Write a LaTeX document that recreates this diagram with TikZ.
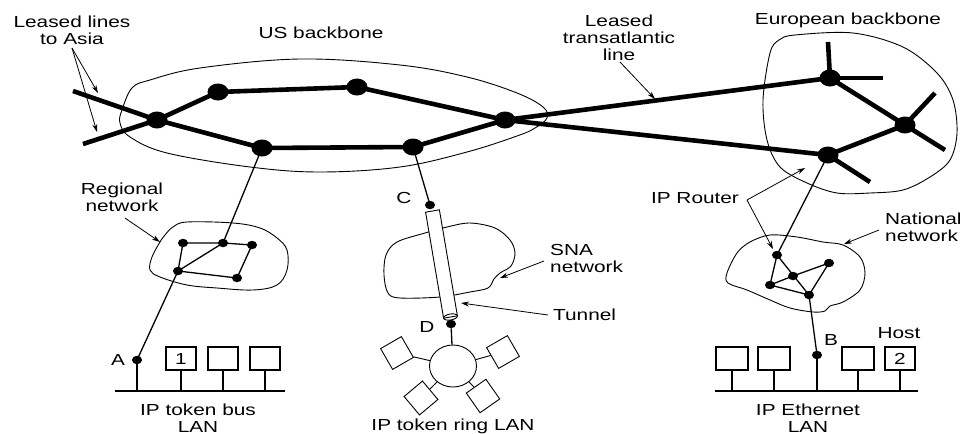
\documentclass[tikz,border=0pt]{standalone}
\usepackage{fontspec}
\setmainfont[FakeStretch=1.3]{Liberation Sans}
\usetikzlibrary{arrows.meta,shapes.geometric}
\begin{document}
\begin{tikzpicture}[x=1pt,y=-1pt,
  bb/.style={line width=4.6pt},
  bigdot/.style={ellipse,fill,inner sep=0pt,minimum width=21pt,minimum height=17pt},
  smalldot/.style={ellipse,fill,inner sep=0pt,minimum width=10pt,minimum height=8.5pt},
  link/.style={line width=1.3pt},
  outline/.style={line width=0.9pt},
  arr/.style={-{Stealth[length=8pt,width=5pt]},line width=0.8pt},
  lbl/.style={font=\fontsize{16}{17}\selectfont,inner sep=0pt,align=center},
  hostbox/.style={draw,line width=1.1pt,minimum width=30pt,minimum height=23pt,inner sep=0pt,font=\fontsize{16}{17}\selectfont},
  bus/.style={line width=1.3pt},
  station/.style={draw,line width=0.9pt,minimum size=24pt,inner sep=0pt}]

\useasboundingbox (0,0) rectangle (962,434);

% ---------- clouds ----------
\draw[outline] plot[smooth cycle,tension=0.6] coordinates {(122,110) (132,88) (150,80) (200,68) (300,59) (400,65) (467,77) (517,93) (543,107) (547,118) (535,128) (517,136) (467,152) (400,167) (320,172) (250,167) (167,153) (130,137) (120,123)};
\draw[outline] plot[smooth cycle,tension=0.55] coordinates {(770,53) (779,40) (795,35) (853,33) (903,47) (937,73) (953,100) (957,133) (950,160) (930,177) (903,190) (870,193) (837,193) (807,183) (780,167) (767,140) (763,100)};
\draw[outline] plot[smooth cycle,tension=0.6] coordinates {(160,242) (152,257) (150,270) (160,277) (187,285) (217,288) (253,290) (277,285) (287,270) (287,250) (277,238) (260,228) (233,223) (187,222) (173,227) (165,235)};
\draw[outline] plot[smooth cycle,tension=0.55] coordinates {(397,242) (425,233) (447,227) (470,223) (495,228) (510,240) (515,253) (511,266) (500,273) (494,279) (488,288) (470,292) (440,297) (400,298) (388,293) (384,275) (386,255)};
\draw[outline] plot[smooth cycle,tension=0.55] coordinates {(727,273) (737,253) (750,242) (770,235) (797,237) (823,242) (843,245) (860,257) (865,273) (860,290) (843,302) (830,306) (825,311) (813,312) (790,308) (770,300) (747,290) (728,283)};

% ---------- backbone coordinates ----------
\coordinate (n1) at (157,120);
\coordinate (n2) at (218,92);
\coordinate (n3) at (357,87);
\coordinate (n4) at (505,120);
\coordinate (n5) at (413,147);
\coordinate (n6) at (262,148);
\coordinate (e1) at (830,78);
\coordinate (e3) at (905,125);
\coordinate (e2) at (828,155);
\coordinate (asiaA) at (73,91);
\coordinate (asiaB) at (83,144);
\coordinate (e1up) at (828,42);
\coordinate (e1r) at (883,78);
\coordinate (e3a) at (935,93);
\coordinate (e3b) at (945,150);
\coordinate (e2s) at (870,182);

\draw[bb] (asiaA) -- (n1);
\draw[bb] (asiaB) -- (n1);
\draw[bb] (n1) -- (n2) -- (n3) -- (n4) -- (n5) -- (n6) -- (n1);
\draw[bb] (n4) -- (e1);
\draw[bb] (n4) -- (e2);
\draw[bb] (e1) -- (e3) -- (e2);
\draw[bb] (e1) -- (e1up);
\draw[bb] (e1) -- (e1r);
\draw[bb] (e3) -- (e3a);
\draw[bb] (e3) -- (e3b);
\draw[bb] (e2) -- (e2s);

% ---------- regional network ----------
\coordinate (r1) at (183,243);
\coordinate (r2) at (223,243);
\coordinate (r3) at (252,245);
\coordinate (r4) at (237,278);
\coordinate (r5) at (178,271);
\coordinate (A) at (137,360);
\draw[link] (n6) -- (r2);
\draw[link] (r1) -- (r2) -- (r3) -- (r4) -- (r5) -- (r1);
\draw[link] (r5) -- (r2);
\draw[link] (r5) -- (A);

% ---------- national network ----------
\coordinate (m1) at (777,255);
\coordinate (m2) at (793,276);
\coordinate (m3) at (770,285);
\coordinate (m4) at (809,295);
\coordinate (m5) at (829,263);
\coordinate (B) at (817,355);
\draw[link] (e2) -- (m1);
\draw[link] (m1) -- (m3) -- (m4) -- (m5) -- (m2) -- (m3);
\draw[link] (m1) -- (m4);
\draw[link] (m4) -- (B);

% ---------- middle: C, tunnel, D ----------
\coordinate (C) at (430,205);
\coordinate (D) at (451,324);
\draw[link] (n5) -- (C);
\draw[outline,fill=white] (425.6,212.2) -- (439.4,209.8) -- (457.4,315.8) -- (443.6,318.2) -- cycle;
\draw[outline,rotate around={9.6:(450.5,317)}] (450.5,317) ellipse [x radius=7pt,y radius=3pt];

% ---------- dots ----------
\foreach \p in {n1,n2,n3,n4,n5,n6,e1,e2,e3} \node[bigdot] (\p dot) at (\p) {};
\foreach \p in {r1,r2,r3,r4,r5,m1,m2,m3,m4,m5,A,B,C,D} \node[smalldot] (\p dot) at (\p) {};

% ---------- token ring ----------
\node[draw,ellipse,outline,minimum width=47pt,minimum height=42pt] (ring) at (453,366) {};
\node[station,rotate=30] (s1) at (397,353) {};
\node[station,rotate=30] (s2) at (503,352) {};
\node[station,rotate=40] (s3) at (421,398) {};
\node[station,rotate=35] (s4) at (483,396) {};
\draw[outline] (ring) -- (s1);
\draw[outline] (ring) -- (s2);
\draw[outline] (ring) -- (s3);
\draw[outline] (ring) -- (s4);
\draw[link] (Ddot) -- (ring);

% ---------- token bus LAN ----------
\coordinate (busL1) at (115,391);
\coordinate (busL2) at (285,391);
\draw[bus] (busL1) -- (busL2);
\node[hostbox] (h1) at (181,358.5) {1};
\node[hostbox] (h2) at (223,358.5) {};
\node[hostbox] (h3) at (265,358.5) {};
\draw[bus] (A) -- (A |- busL1);
\foreach \h in {h1,h2,h3} \draw[bus] (\h.south) -- (\h.south |- busL1);

% ---------- Ethernet LAN ----------
\coordinate (busR1) at (715,391);
\coordinate (busR2) at (918,391);
\draw[bus] (busR1) -- (busR2);
\node[hostbox,minimum width=32pt] (h4) at (732,358.5) {};
\node[hostbox,minimum width=32pt] (h5) at (774,358.5) {};
\node[hostbox,minimum width=32pt] (h6) at (858,358.5) {};
\node[hostbox] (h7) at (900,358.5) {2};
\draw[bus] (B) -- (B |- busR1);
\foreach \h in {h4,h5,h6,h7} \draw[bus] (\h.south) -- (\h.south |- busR1);

% ---------- labels ----------
\node[lbl] (lAsia) at (72,30) {Leased lines\\to Asia};
\node[lbl] (lUS) at (321,33) {US backbone};
\node[lbl] (lTrans) at (619,37.5) {Leased\\transatlantic\\line};
\node[lbl] (lEuro) at (848,20) {European backbone};
\node[lbl] (lRegional) at (122,197) {Regional\\network};
\node[lbl,anchor=west,align=left] (lSNA) at (550,258.5) {SNA\\network};
\node[lbl,anchor=west] (lTunnel) at (553,315) {Tunnel};
\node[lbl] (lRouter) at (695,198) {IP Router};
\node[lbl,anchor=west,align=left] (lNational) at (885,227.5) {National\\network};
\node[lbl] (lHost) at (899,333) {Host};
\node[lbl] (lA) at (118,360) {A};
\node[lbl] (lB) at (831,340) {B};
\node[lbl] (lC) at (404,198) {C};
\node[lbl] (lD) at (427,327) {D};
\node[lbl] (lBus) at (198,418) {IP token bus\\LAN};
\node[lbl] (lRing) at (453,426) {IP token ring LAN};
\node[lbl] (lEth) at (808,418) {IP Ethernet\\LAN};

% ---------- arrows ----------
\coordinate (asiaTail) at (72,48);
\coordinate (asiaTip1) at (98,93);
\coordinate (asiaTip2) at (97,132);
\draw[arr] (asiaTail) -- (asiaTip1);
\draw[arr] (asiaTail) -- (asiaTip2);
\coordinate (transTail) at (620,62);
\coordinate (transTip) at (655,99);
\draw[arr] (transTail) -- (transTip);
\coordinate (regTail) at (125,218);
\coordinate (regTip) at (160,242);
\draw[arr] (regTail) -- (regTip);
\coordinate (snaTail) at (544,261);
\coordinate (snaTip) at (500,278);
\draw[arr] (snaTail) -- (snaTip);
\coordinate (tunTail) at (548,315);
\coordinate (tunTip) at (461,303);
\draw[arr] (tunTail) -- (tunTip);
\coordinate (rtJ) at (747,200);
\coordinate (rtTip1) at (805,168);
\coordinate (rtTip2) at (773,249);
\draw[arr] (rtJ) -- (rtTip1);
\draw[arr] (rtJ) -- (rtTip2);
\coordinate (natTail) at (879,230);
\coordinate (natTip) at (844,244);
\draw[arr] (natTail) -- (natTip);
\end{tikzpicture}
\end{document}
